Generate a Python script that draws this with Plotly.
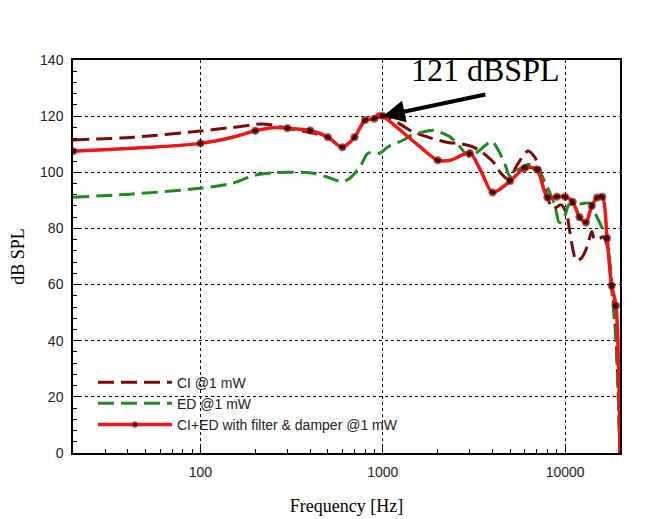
import plotly.graph_objects as go

# CI + ED with filter & damper (red, markers at measurement points)
red_freq = [20, 50, 100, 150, 200, 250, 300, 400, 500, 600, 700, 800, 900, 950, 1000,
            1300, 1600, 2000, 2350, 3000, 3450, 4000, 5000, 6000, 7000, 8000, 9000,
            10000, 11000, 12000, 13000, 14000, 15000, 16000, 17000, 18000, 19000, 20000]
red_db = [107.5, 108.8, 110.3, 112.5, 114.8, 115.9, 115.7, 114.9, 112.5, 108.9, 112.5, 118.6,
          119.1, 120.8, 120.1, 114.0, 109.1, 104.3, 104.3, 106.8, 100.5, 92.8, 96.9, 101.5,
          101.0, 91.0, 91.3, 91.3, 89.5, 84.0, 82.1, 88.0, 91.0, 91.3, 76.5, 59.6, 52.5, 0.0]
red_marked = [1, 0, 1, 0, 1, 0, 1, 1, 1, 1, 1, 1, 1, 0, 1,
              0, 0, 1, 0, 1, 0, 1, 1, 1, 1, 1, 1,
              1, 1, 1, 1, 1, 1, 1, 1, 1, 1, 0]

# CI @1 mW (dark red dashed)
ci_freq = [20, 43, 100, 150, 217, 250, 300, 400, 500, 600, 700, 800, 900, 1000, 1050,
           1270, 1450, 1860, 2330, 2600, 3100, 3450, 4150, 4400, 4900, 5500, 6260, 6800,
           7250, 8100, 8600, 9500, 10000, 10300, 10600, 11100, 11500, 12300, 13200, 14000,
           14500, 15500, 16200, 17000, 18000, 19000, 20000]
ci_db = [111.5, 112.5, 114.7, 116.0, 117.2, 116.8, 115.7, 114.2, 112.5, 109.0, 112.5, 118.5,
         119.2, 120.0, 119.8, 116.8, 114.5, 112.1, 110.5, 110.3, 109.1, 107.5, 102.8, 100.0,
         97.5, 103.0, 107.6, 105.5, 101.4, 90.0, 87.0, 88.4, 86.5, 84.0, 79.0, 71.7, 68.5,
         69.4, 73.5, 78.9, 76.0, 76.5, 77.0, 74.0, 61.0, 42.0, 0.0]

# ED @1 mW (green dashed)
ed_freq = [20, 41, 100, 150, 200, 250, 300, 400, 490, 600, 660, 760, 820, 880, 960, 1070,
           1300, 1450, 1750, 1900, 2330, 2600, 3000, 3350, 3960, 4300, 4680, 5000, 5500,
           6260, 6960, 7660, 8340, 8800, 9300, 10000, 10500, 11300, 13800, 14300, 15700,
           16500, 17000, 18000, 19000, 20000]
ed_db = [91.1, 92.2, 94.3, 96.1, 99.0, 99.8, 100.0, 99.8, 98.4, 96.7, 97.9, 102.6, 106.5,
         107.2, 106.8, 109.1, 111.5, 113.3, 114.7, 115.0, 112.7, 109.7, 105.5, 107.5, 111.0,
         107.9, 102.8, 98.4, 100.8, 102.8, 102.0, 97.3, 91.9, 88.0, 82.0, 84.8, 88.5, 88.4,
         89.0, 86.6, 81.2, 78.0, 75.0, 58.1, 40.0, 0.0]

x_ticks = [100, 1000, 10000]
x_tick_text = ["100", "1000", "10000"]
x_minor = [30, 40, 50, 60, 70, 80, 90, 200, 300, 400, 500, 600, 700, 800, 900,
           2000, 3000, 4000, 5000, 6000, 7000, 8000, 9000]
y_ticks = [0, 20, 40, 60, 80, 100, 120, 140]

fig = go.Figure()
fig.add_trace(go.Scatter(
    x=ci_freq, y=ci_db, mode="lines", name="CI @1 mW",
    line=dict(color="#7d0a0a", width=3, dash="16px,7px", shape="spline", smoothing=0.8),
))
fig.add_trace(go.Scatter(
    x=ed_freq, y=ed_db, mode="lines", name="ED @1 mW",
    line=dict(color="#1f8a1f", width=3, dash="16px,7px", shape="spline", smoothing=0.8),
))
fig.add_trace(go.Scatter(
    x=red_freq, y=red_db, mode="lines+markers", name="CI+ED with filter & damper @1 mW",
    line=dict(color="#f01616", width=3.5, shape="spline", smoothing=0.8),
    marker=dict(color="black", size=[7.5 * m for m in red_marked]),
))

fig.add_annotation(
    x=3, y=120, xref="x", yref="y", text="", showarrow=True,
    ax=104, ay=-22, axref="pixel", ayref="pixel",
    arrowhead=2, arrowsize=1.1, arrowwidth=4, arrowcolor="black",
)
fig.add_annotation(
    x=0.753, y=0.975, xref="paper", yref="paper", text="121 dBSPL", showarrow=False,
    font=dict(family="Liberation Serif, Times New Roman, serif", size=32, color="black"),
    xanchor="center", yanchor="middle",
)

fig.update_layout(
    width=644, height=511,
    margin=dict(l=65, r=32, t=52, b=66, autoexpand=False),
    paper_bgcolor="white", plot_bgcolor="white",
    font=dict(family="Liberation Sans, Arial, sans-serif", size=14, color="#222"),
    showlegend=True,
    legend=dict(x=0.0365, y=0.22, xanchor="left", yanchor="top",
                bgcolor="rgba(0,0,0,0)", borderwidth=0,
                font=dict(family="Liberation Sans, Arial, sans-serif", size=14, color="#222"),
                itemwidth=74),
)
fig.update_xaxes(
    type="log", range=[1.30103, 4.30103], automargin=False,
    tickmode="array", tickvals=x_ticks, ticktext=x_tick_text,
    ticks="inside", ticklen=6, tickcolor="black", ticklabelstandoff=5,
    showline=True, linecolor="black", linewidth=1.5, mirror=True,
    showgrid=True, gridcolor="black", griddash="dot", gridwidth=1,
    zeroline=False,
    minor=dict(tickmode="array", tickvals=x_minor, ticks="inside", ticklen=4,
               tickcolor="black", showgrid=False),
    title=dict(text="Frequency [Hz]", standoff=21,
               font=dict(family="Liberation Serif, Times New Roman, serif", size=18, color="black")),
)
fig.update_yaxes(
    range=[0, 140], tickmode="array", tickvals=y_ticks, automargin=False,
    ticks="inside", ticklen=6, tickcolor="black", ticklabelstandoff=5,
    showline=True, linecolor="black", linewidth=1.5, mirror=True,
    showgrid=True, gridcolor="black", griddash="dot", gridwidth=1,
    zeroline=False,
    minor=dict(dtick=4, ticks="inside", ticklen=4, tickcolor="black", showgrid=False),
    title=dict(text="dB SPL", standoff=13,
               font=dict(family="Liberation Serif, Times New Roman, serif", size=18, color="black")),
)

fig.write_html("out.html")
